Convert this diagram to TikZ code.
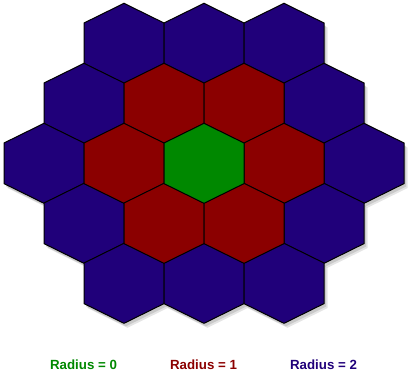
\documentclass[tikz,border=0pt]{standalone}
\usepackage{fontspec}
\setmainfont{Liberation Sans}
\definecolor{hblue}{RGB}{32,0,122}
\definecolor{hred}{RGB}{139,0,0}
\definecolor{hgreen}{RGB}{0,136,0}
\newcommand{\hexpath}[2]{(#1,#2-40) -- (#1+40,#2-20.3) -- (#1+40,#2+20.3) -- (#1,#2+40) -- (#1-40,#2+20.3) -- (#1-40,#2-20.3) -- cycle}
\newcommand{\hexcell}[3]{\filldraw[hexline,fill=#3] \hexpath{#1}{#2};}
\newcommand{\hexshadow}[2]{\fill[black,opacity=0.12] \hexpath{#1+2}{#2+3}; \fill[black,opacity=0.10] \hexpath{#1+3.5}{#2+4.5};}
\tikzset{
  hexline/.style={draw=black,line width=1pt,line join=miter},
  legend/.style={font=\bfseries\fontsize{13.3}{15}\selectfont,inner sep=0pt,anchor=center}
}
\begin{document}
\begin{tikzpicture}[x=1pt,y=-1pt]
\useasboundingbox (0,0) rectangle (409,375);
% shadows
\foreach \x/\y in {124/43.3,204/43.3,284/43.3,
  84/103.3,164/103.3,244/103.3,324/103.3,
  44/163.3,124/163.3,204/163.3,284/163.3,364/163.3,
  84/223.3,164/223.3,244/223.3,324/223.3,
  124/283.3,204/283.3,284/283.3}{\hexshadow{\x}{\y}}
% radius 2
\foreach \x/\y in {124/43.3,204/43.3,284/43.3,
  84/103.3,324/103.3,
  44/163.3,364/163.3,
  84/223.3,324/223.3,
  124/283.3,204/283.3,284/283.3}{\hexcell{\x}{\y}{hblue}}
% radius 1
\foreach \x/\y in {164/103.3,244/103.3,124/163.3,284/163.3,164/223.3,244/223.3}{\hexcell{\x}{\y}{hred}}
% radius 0
\hexcell{204}{163.3}{hgreen}
% legend
\node[legend,text=hgreen] (r0) at (83.5,365) {Radius = 0};
\node[legend,text=hred] (r1) at (203.5,365) {Radius = 1};
\node[legend,text=hblue] (r2) at (323.5,365) {Radius = 2};
\end{tikzpicture}
\end{document}
